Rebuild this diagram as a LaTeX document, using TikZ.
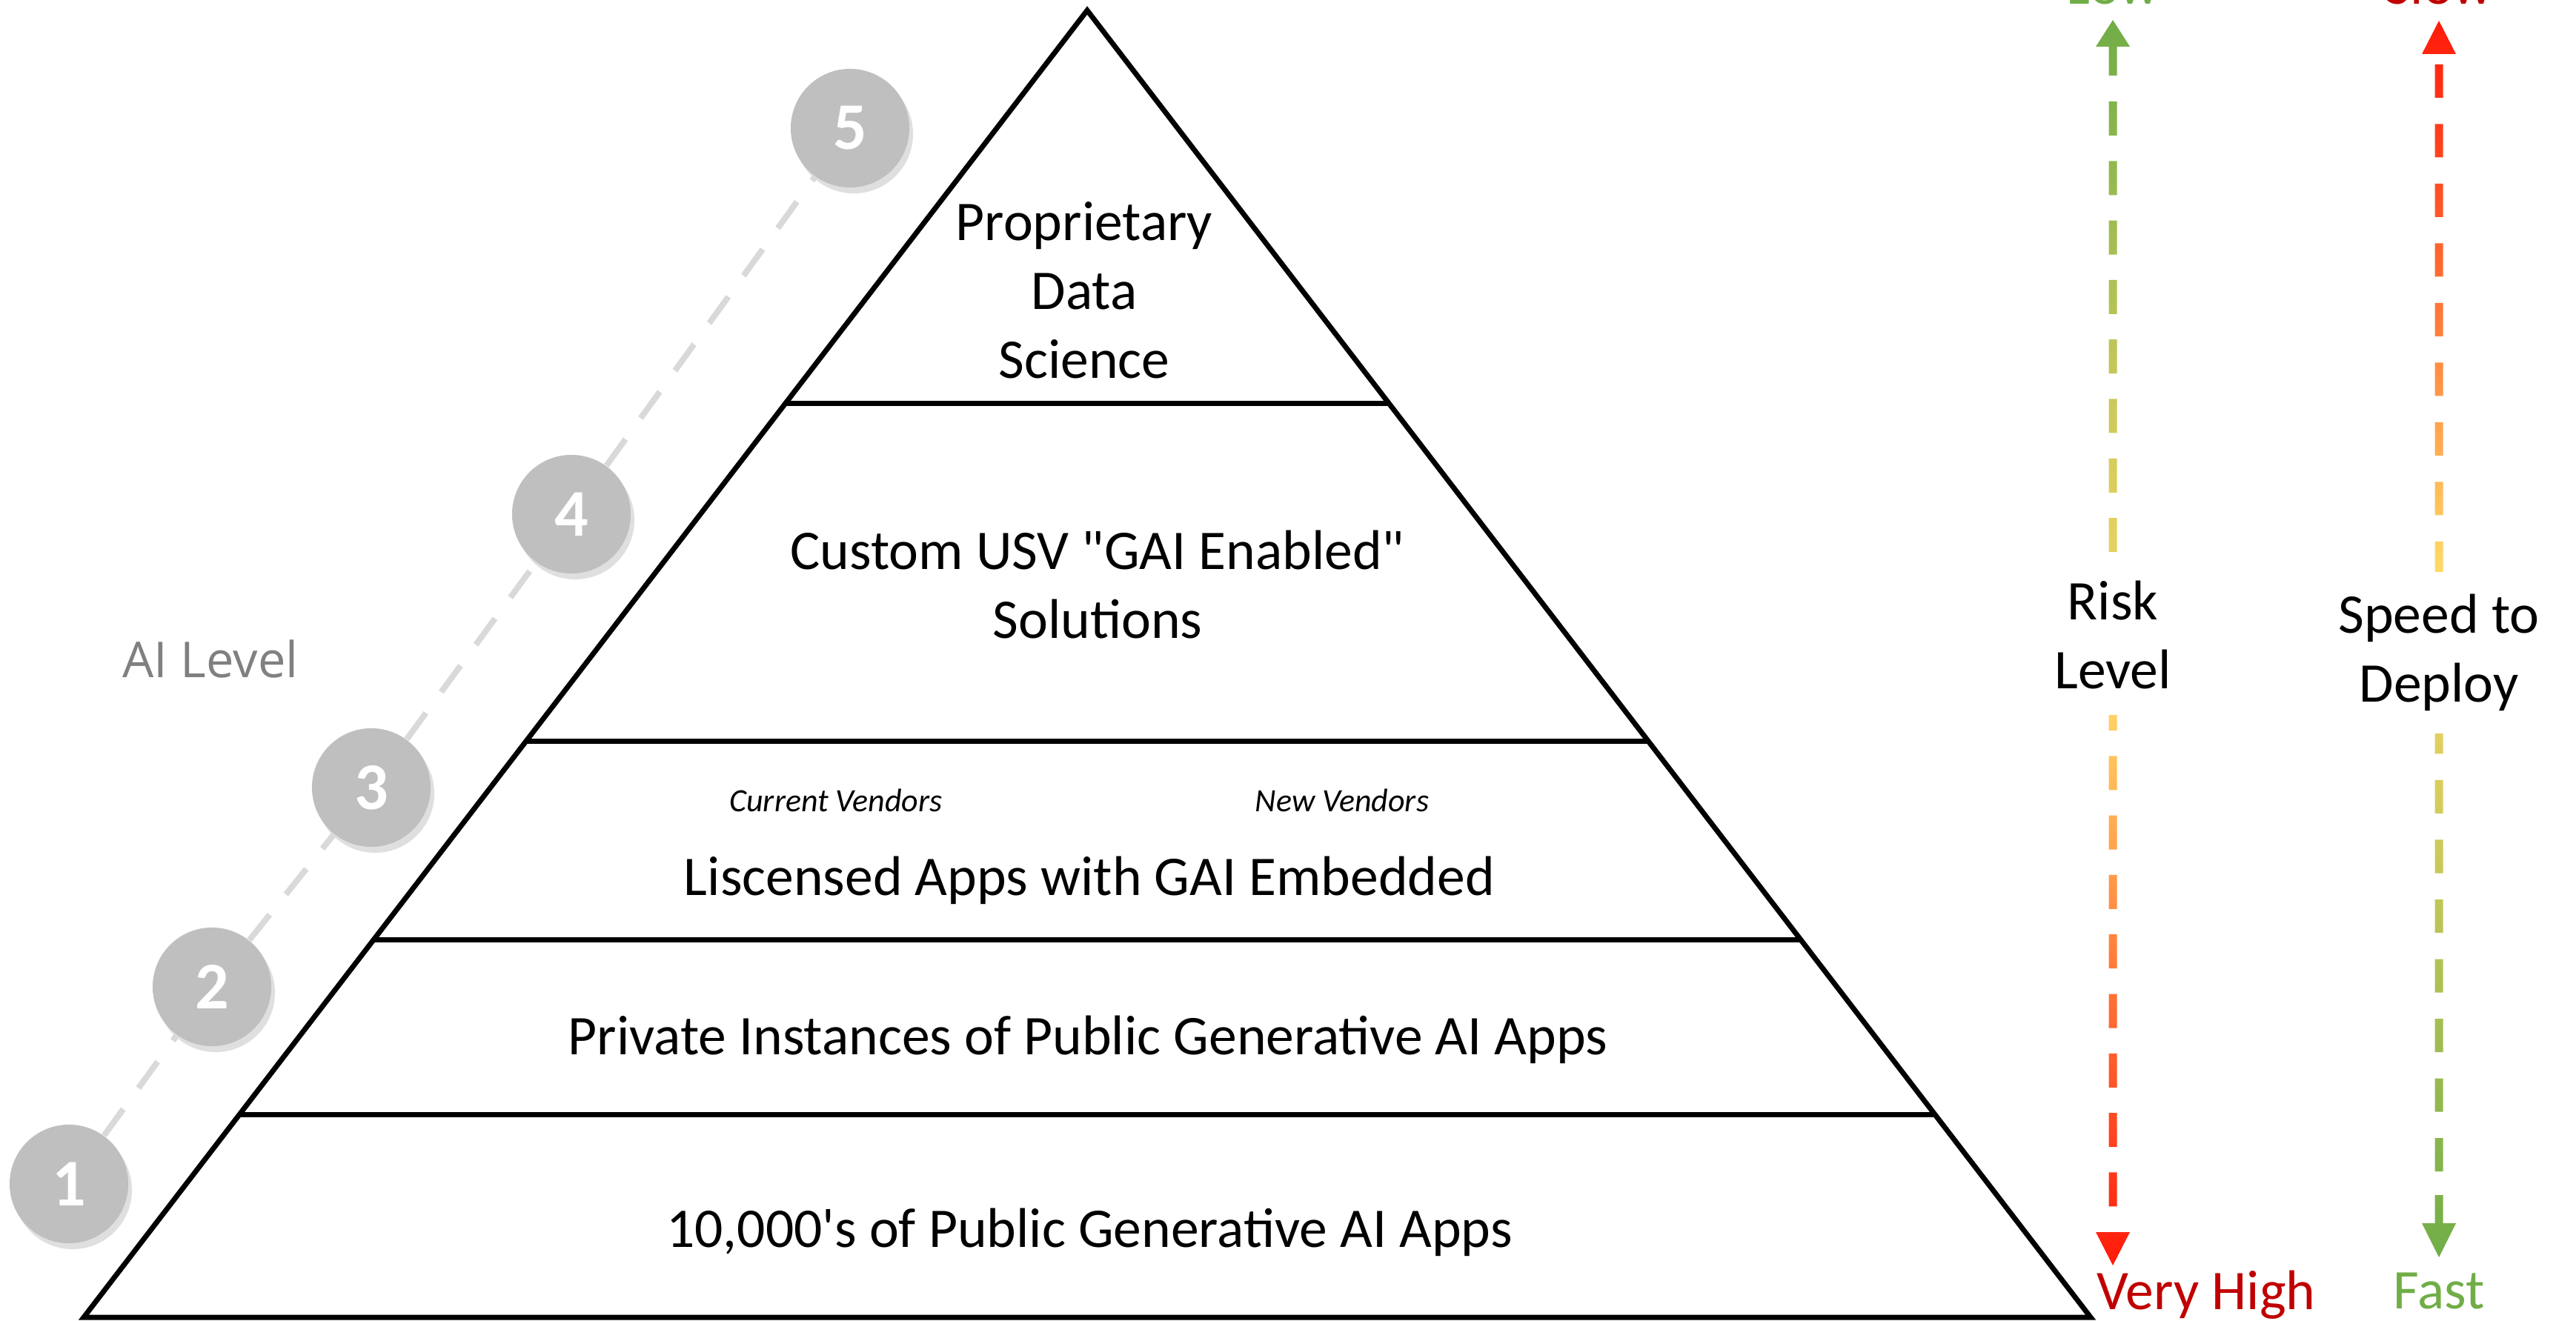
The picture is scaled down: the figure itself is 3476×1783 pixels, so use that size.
\documentclass[tikz,border=0pt]{standalone}
\usepackage{fontspec}
\setmainfont{Carlito}[Ligatures=TeXOff]
\newfontfamily\levelfont{Open Sans}
\usepackage{xcolor}
\usetikzlibrary{arrows.meta,calc,shadows}

\definecolor{lowgreen}{HTML}{70AD47}
\definecolor{hotred}{HTML}{FF1A0A}
\definecolor{darkred}{HTML}{C00000}
\definecolor{midyellow}{HTML}{FFD966}
\definecolor{limeyellow}{HTML}{C9C95A}
\definecolor{warmorange}{HTML}{FF7A3A}
\definecolor{circlegray}{HTML}{BFBFBF}
\definecolor{dashgray}{HTML}{D9D9D9}
\definecolor{labelgray}{HTML}{808080}

\newcommand\tierfont{\fontsize{21.5}{26.5}\selectfont}
\newcommand\vendorfont{\fontsize{12.5}{15}\selectfont\itshape}

% gradients for the two scales (25bp = bottom, 75bp = top)
\pgfdeclareverticalshading{riskshade}{100bp}{color(0bp)=(hotred); color(25bp)=(hotred); color(37bp)=(warmorange); color(48bp)=(midyellow); color(60bp)=(limeyellow); color(75bp)=(lowgreen); color(100bp)=(lowgreen)}
\pgfdeclareverticalshading{speedshade}{100bp}{color(0bp)=(lowgreen); color(25bp)=(lowgreen); color(41bp)=(limeyellow); color(53bp)=(midyellow); color(63bp)=(warmorange); color(75bp)=(hotred); color(100bp)=(hotred)}

\begin{document}
\begin{tikzpicture}[
    x=0.01cm, y=-0.01cm,
    edge/.style={line width=0.07cm, line join=miter},
    tier/.style={align=center, font=\tierfont, inner sep=2pt},
    vendor/.style={font=\vendorfont},
    level/.style={circle, fill=circlegray, minimum size=1.6cm, inner sep=0pt, text=white,
        font=\fontsize{25.6}{30}\selectfont\bfseries,
        drop shadow={shadow xshift=0.05cm, shadow yshift=-0.08cm, opacity=0.25}},
    leveldash/.style={draw=dashgray, line width=0.08cm, dash pattern=on 0.44cm off 0.35cm},
    scale label/.style={align=center, font=\tierfont, fill=white, inner xsep=2pt},
    end label/.style={font=\tierfont, anchor=base, inner sep=0pt}
]
\useasboundingbox (0,0) rectangle (3476,1783);

% pyramid
\coordinate (apex) at (1467,14);
\coordinate (bl) at (113,1778);
\coordinate (br) at (2821,1778);
\draw[edge] (apex) -- (br) -- (bl) -- cycle;
\foreach \f in {0.301,0.559,0.7109,0.8452}
  \draw[edge] ($(apex)!\f!(bl)$) -- ($(apex)!\f!(br)$);

\node[tier] (t5) at (1463,392) {Proprietary\\Data\\Science};
\node[tier] (t4) at (1481,789) {Custom USV "GAI Enabled"\\Solutions};
\node[vendor] (cur) at (1128,1080) {Current Vendors};
\node[vendor] (new) at (1811,1080) {New Vendors};
\node[tier] (t3) at (1470,1188) {Liscensed Apps with GAI Embedded};
\node[tier] (t2) at (1468,1403) {Private Instances of Public Generative AI Apps};
\node[tier] (t1) at (1470,1663) {10,000's of Public Generative AI Apps};

% AI levels
\node[level] (c1) at (93,1598) {1};
\node[level] (c2) at (286,1332) {2};
\node[level] (c3) at (501,1063) {3};
\node[level] (c4) at (771,694) {4};
\node[level] (c5) at (1147,173) {5};
\foreach \a/\b in {c1/c2,c2/c3,c3/c4,c4/c5}
  \draw[leveldash] (\a) -- (\b);
\node[font=\levelfont\fontsize{19}{23}\selectfont, text=labelgray] (ailevel) at (284,889) {AI Level};

% risk scale
\coordinate (risk top) at (2851,27);
\coordinate (risk bot) at (2851,1708);
\begin{scope}
  \clip (risk top) -- ++(23,36) -- ++(-46,0) -- cycle
        ($(risk top)+(-5.5,36)$) rectangle ++(11,39)
        \foreach \k in {0,...,18} { ($(risk top)+(-5.5,{110+80.3*\k})$) rectangle ++(11,46) }
        (risk bot) -- ++(23,-45) -- ++(-46,0) -- cycle;
  \shade[shading=riskshade] ($(risk top)+(-30,0)$) rectangle ($(risk bot)+(30,0)$);
\end{scope}
\node[scale label, inner ysep=0.35cm] (risk) at (2851,857) {Risk\\Level};
\node[end label, text=lowgreen] (low) at (2851,6) {Low};
\node[end label, anchor=base west, text=darkred] (veryhigh) at (2829,1767) {Very High};

% speed scale
\coordinate (speed top) at (3291,28);
\coordinate (speed bot) at (3291,1697);
\begin{scope}
  \clip (speed top) -- ++(23,45) -- ++(-46,0) -- cycle
        \foreach \k in {0,...,18} { ($(speed top)+(-5.5,{59+80.5*\k})$) rectangle ++(11,45) }
        ($(speed bot)+(-5.5,-84)$) rectangle ++(11,38)
        (speed bot) -- ++(23,-46) -- ++(-46,0) -- cycle;
  \shade[shading=speedshade] ($(speed top)+(-30,0)$) rectangle ($(speed bot)+(30,0)$);
\end{scope}
\node[scale label, inner ysep=0.3cm] (speed) at (3291,881) {Speed to\\Deploy};
\node[end label, text=darkred] (slow) at (3291,6) {Slow};
\node[end label, text=lowgreen] (fast) at (3291,1766) {Fast};

\end{tikzpicture}
\end{document}
